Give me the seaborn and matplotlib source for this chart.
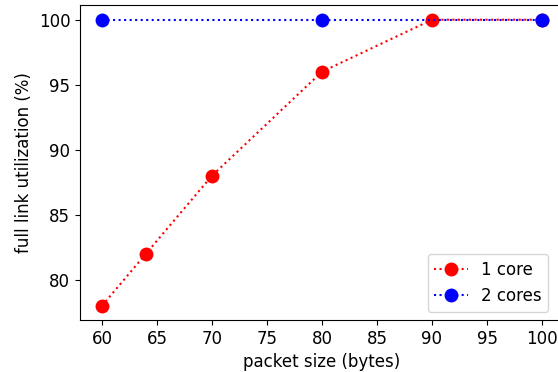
import pandas as pd
import seaborn as sns
import matplotlib.pyplot as plt

# packet size (bytes) vs full link utilization (%)
x_one_core = [60, 64, 70, 80, 90, 100]
y_one_core = [78, 82, 88, 96, 100, 100]
x_two_cores = [60, 80, 100]
y_two_cores = [100, 100, 100]

df1 = pd.DataFrame({"size": x_one_core, "util": y_one_core})
df2 = pd.DataFrame({"size": x_two_cores, "util": y_two_cores})

fig = plt.figure(figsize=(5.58, 3.72), dpi=100)
ax = fig.add_axes([80 / 558, 52 / 372, 484 / 558, 314.6 / 372])

sns.lineplot(data=df1, x="size", y="util", ax=ax, color="red", linestyle=":",
             marker="o", markersize=10, markeredgewidth=0, label="1 core")
sns.lineplot(data=df2, x="size", y="util", ax=ax, color="blue", linestyle=":",
             marker="o", markersize=10, markeredgewidth=0, label="2 cores")

ax.set_xlim(58, 102)
ax.set_ylim(76.9, 101.1)
ax.set_xticks(range(60, 101, 5))
ax.set_yticks(range(80, 101, 5))
ax.tick_params(labelsize=12)
ax.set_xlabel("packet size (bytes)", fontsize=12)
ax.set_ylabel("full link utilization (%)", fontsize=12)
ax.legend(loc="lower right", fontsize=12, bbox_to_anchor=(0.985, 0.0))

fig.savefig("out.png", dpi=100)
